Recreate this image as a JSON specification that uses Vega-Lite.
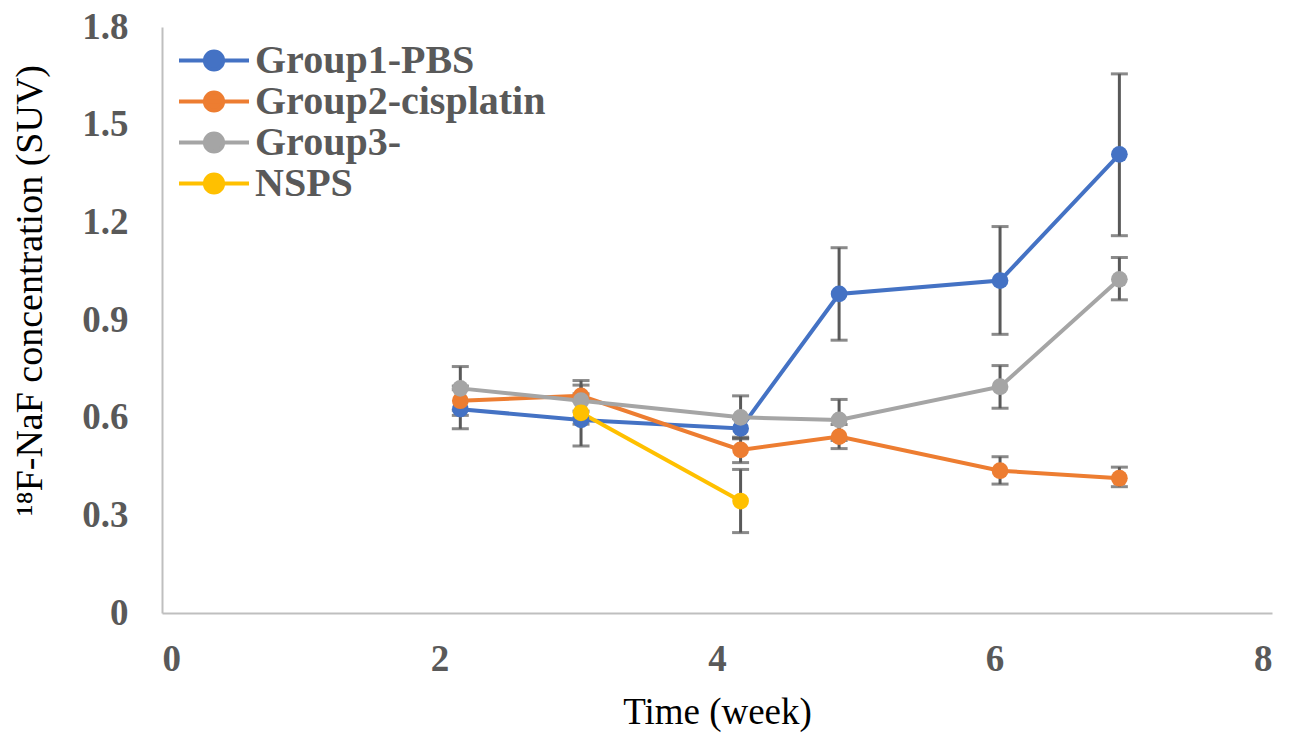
{
  "$schema": "https://vega.github.io/schema/vega-lite/v6.json",
  "autosize": {"type": "none"},
  "width": 1110,
  "height": 586,
  "padding": {"left": 162, "top": 27, "right": 25, "bottom": 121},
  "background": "white",
  "config": {"view": {"stroke": null}},
  "data": {
    "values": [
      {"group": "Group1-PBS", "week": 2.15, "suv": 0.626, "lo": 0.566, "hi": 0.686},
      {"group": "Group1-PBS", "week": 3.02, "suv": 0.593, "lo": 0.513, "hi": 0.673},
      {"group": "Group1-PBS", "week": 4.17, "suv": 0.567, "lo": 0.537, "hi": 0.597},
      {"group": "Group1-PBS", "week": 4.88, "suv": 0.980, "lo": 0.838, "hi": 1.122},
      {"group": "Group1-PBS", "week": 6.04, "suv": 1.021, "lo": 0.856, "hi": 1.187},
      {"group": "Group1-PBS", "week": 6.9, "suv": 1.409, "lo": 1.159, "hi": 1.656},
      {"group": "Group2-cisplatin", "week": 2.15, "suv": 0.652, "lo": 0.607, "hi": 0.697},
      {"group": "Group2-cisplatin", "week": 3.02, "suv": 0.667, "lo": 0.620, "hi": 0.714},
      {"group": "Group2-cisplatin", "week": 4.17, "suv": 0.501, "lo": 0.462, "hi": 0.540},
      {"group": "Group2-cisplatin", "week": 4.88, "suv": 0.542, "lo": 0.505, "hi": 0.579},
      {"group": "Group2-cisplatin", "week": 6.04, "suv": 0.437, "lo": 0.396, "hi": 0.480},
      {"group": "Group2-cisplatin", "week": 6.9, "suv": 0.414, "lo": 0.388, "hi": 0.448},
      {"group": "Group3-", "week": 2.15, "suv": 0.690, "lo": 0.623, "hi": 0.757},
      {"group": "Group3-", "week": 3.02, "suv": 0.652, "lo": 0.600, "hi": 0.700},
      {"group": "Group3-", "week": 4.17, "suv": 0.601, "lo": 0.535, "hi": 0.667},
      {"group": "Group3-", "week": 4.88, "suv": 0.593, "lo": 0.530, "hi": 0.656},
      {"group": "Group3-", "week": 6.04, "suv": 0.695, "lo": 0.629, "hi": 0.760},
      {"group": "Group3-", "week": 6.9, "suv": 1.025, "lo": 0.962, "hi": 1.092},
      {"group": "NSPS", "week": 3.02, "suv": 0.615, "lo": 0.580, "hi": 0.650},
      {"group": "NSPS", "week": 4.17, "suv": 0.344, "lo": 0.247, "hi": 0.441}
    ]
  },
  "encoding": {
    "x": {
      "field": "week", "type": "quantitative",
      "scale": {"domain": [0, 8], "nice": false, "zero": false},
      "axis": {
        "values": [0, 2, 4, 6, 8],
        "title": "Time (week)",
        "grid": false, "ticks": false,
        "domainColor": "#BFBFBF", "domainWidth": 2,
        "labelFont": "Liberation Serif", "labelFontWeight": "bold", "labelFontSize": 37, "labelColor": "#595959",
        "labelPadding": 28,
        "titleFont": "Liberation Serif", "titleFontWeight": "normal", "titleFontSize": 37, "titleColor": "#000000",
        "titlePadding": 17
      }
    }
  },
  "layer": [
    {
      "mark": {"type": "errorbar", "color": "#595959", "rule": {"strokeWidth": 3}, "ticks": {"size": 17, "thickness": 3}},
      "encoding": {
        "y": {"field": "lo", "type": "quantitative", "title": "¹⁸F-NaF concentration (SUV)", "scale": {"domain": [0, 1.8], "nice": false}},
        "y2": {"field": "hi"}
      }
    },
    {
      "mark": {"type": "line", "strokeWidth": 4},
      "encoding": {
        "y": {
          "field": "suv", "type": "quantitative",
          "title": "¹⁸F-NaF concentration (SUV)",
          "scale": {"domain": [0, 1.8], "nice": false},
          "axis": {
            "values": [0, 0.3, 0.6, 0.9, 1.2, 1.5, 1.8],
            "labelExpr": "datum.value == 0 ? '0' : format(datum.value, '.1f')",
            "grid": false, "ticks": false,
            "domainColor": "#BFBFBF", "domainWidth": 2,
            "labelFont": "Liberation Serif", "labelFontWeight": "bold", "labelFontSize": 37, "labelColor": "#595959",
            "labelPadding": 34,
            "titleFont": "Liberation Serif", "titleFontWeight": "normal", "titleFontSize": 38, "titleColor": "#000000",
            "titleAngle": -90, "titleX": -132, "titleY": 263, "titleAlign": "center", "titleBaseline": "middle"
          }
        },
        "color": {
          "field": "group", "type": "nominal",
          "scale": {"domain": ["Group1-PBS", "Group2-cisplatin", "Group3-", "NSPS"], "range": ["#4472C4", "#ED7D31", "#A5A5A5", "#FFC000"]},
          "legend": {
            "title": null,
            "orient": "none", "legendX": 15, "legendY": 13,
            "symbolType": "M-1,0L1,0M-0.26,0A0.26,0.26,0,1,1,0.26,0A0.26,0.26,0,1,1,-0.26,0Z",
            "symbolSize": 4900,
            "symbolStrokeWidth": 4,
            "labelFont": "Liberation Serif", "labelFontWeight": "bold", "labelFontSize": 40, "labelColor": "#595959",
            "labelLimit": 0,
            "labelOffset": 4,
            "clipHeight": 41,
            "rowPadding": 0,
            "encode": {
              "symbols": {
                "update": {
                  "fill": {"scale": "color", "field": "value"},
                  "stroke": {"scale": "color", "field": "value"},
                  "opacity": {"value": 1}
                }
              }
            }
          }
        }
      }
    },
    {
      "mark": {"type": "point", "filled": true, "size": 280, "opacity": 1},
      "encoding": {
        "y": {"field": "suv", "type": "quantitative"},
        "color": {"field": "group", "type": "nominal"}
      }
    }
  ]
}
